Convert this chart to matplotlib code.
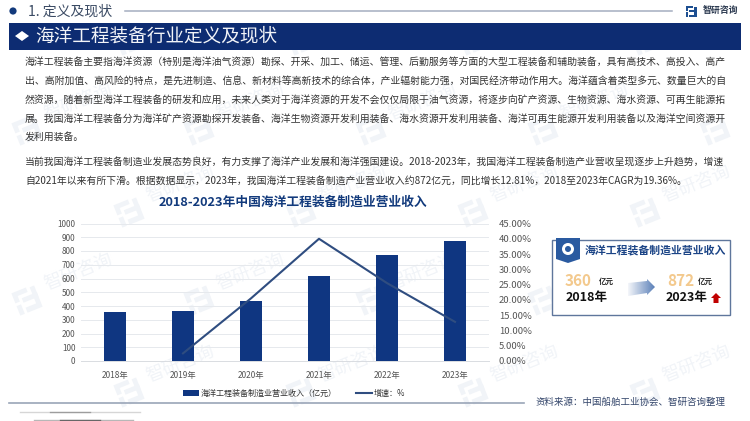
import matplotlib
matplotlib.use('Agg')
import matplotlib.pyplot as plt
import numpy as np
from matplotlib.patches import Rectangle, Polygon, Circle

plt.rcParams['font.family'] = ['Noto Sans CJK SC', 'DejaVu Sans']

# chart data
years = ['2018年', '2019年', '2020年', '2021年', '2022年', '2023年']
revenue = [360, 366, 438, 618, 771, 872]
growth_years = ['2019年', '2020年', '2021年', '2022年', '2023年']
growth = [2.5, 20.5, 40.0, 25.5, 12.81]
revenue_ticks = [0, 100, 200, 300, 400, 500, 600, 700, 800, 900, 1000]
growth_ticks = [0, 5, 10, 15, 20, 25, 30, 35, 40, 45]

# body text, one entry per line
para_lines = [
    '海洋工程装备主要指海洋资源（特别是海洋油气资源）勘探、开采、加工、储运、管理、后勤服务等方面的大型工程装备和辅助装备，具有高技术、高投入、高产',
    '出、高附加值、高风险的特点，是先进制造、信息、新材料等高新技术的综合体，产业辐射能力强，对国民经济带动作用大。海洋蕴含着类型多元、数量巨大的自',
    '然资源，随着新型海洋工程装备的研发和应用，未来人类对于海洋资源的开发不会仅仅局限于油气资源，将逐步向矿产资源、生物资源、海水资源、可再生能源拓',
    '展。我国海洋工程装备分为海洋矿产资源勘探开发装备、海洋生物资源开发利用装备、海水资源开发利用装备、海洋可再生能源开发利用装备以及海洋空间资源开',
    '发利用装备。',
    '当前我国海洋工程装备制造业发展态势良好，有力支撑了海洋产业发展和海洋强国建设。2018-2023年，我国海洋工程装备制造产业营收呈现逐步上升趋势，增速',
    '自2021年以来有所下滑。根据数据显示，2023年，我国海洋工程装备制造产业营业收入约872亿元，同比增长12.81%，2018至2023年CAGR为19.36%。',
]
para_y = [62, 81, 100, 119, 137, 162, 181]

navy = '#0d2c72'
bar_color = '#0f3681'
line_color = '#2f4d80'
grey = '#555555'

fig = plt.figure(figsize=(7.5, 4.21), dpi=100, facecolor='white')

# full page layer in pixel coordinates
page = fig.add_axes([0, 0, 1, 1], zorder=0)
page.set_xlim(0, 750)
page.set_ylim(421, 0)
page.axis('off')


def small_logo(ax, x, y, s, color, angle=0.0, lw=0):
    # the three block logo, s is the half size
    t = np.deg2rad(angle)
    rot = np.array([[np.cos(t), np.sin(t)], [-np.sin(t), np.cos(t)]])
    shapes = [
        [(-1, -1), (0.3, -1), (0.3, -0.6), (-0.6, -0.6), (-0.6, -0.1), (-1, -0.1)],
        [(-1, 0.15), (-0.6, 0.15), (-0.6, 1), (-1, 1)],
        [(-0.35, -0.3), (1, -0.3), (1, 0.1), (-0.35, 0.1)],
        [(-0.35, 0.55), (0.6, 0.55), (0.6, -0.9), (1, -0.9), (1, 1), (-0.35, 1)],
    ]
    for pts in shapes:
        xy = np.array(pts) * s
        xy = xy @ rot.T + [x, y]
        ax.add_patch(Polygon(xy, closed=True, fc=color, ec='none', lw=lw, zorder=1))


# watermarks, only the whole ones get their text
wm_color = '#f1f4f8'
for row, wy in enumerate([40, 130, 212, 300, 392]):
    offset = 0 if row % 2 == 0 else 70
    for wx in range(-60, 800, 172):
        lx = wx + offset
        small_logo(page, lx + 17, wy, 12, wm_color, angle=22)
        if 40 < lx + 68 < 710 and wy - 28 > 25:
            page.text(lx + 68, wy - 28, '智研咨询', fontsize=13, color=wm_color, rotation=22,
                      ha='center', va='center', zorder=1)

# header row
page.add_patch(Circle((13, 11), 3.6, fc='#123a7c', ec='none', zorder=3))
page.text(28, 11.5, '1. 定义及现状', fontsize=10, color='#3a4a63', ha='left', va='center', zorder=3)
page.plot([125, 672], [10.5, 10.5], color='#a4adc0', lw=1.1, zorder=3)
small_logo(page, 691, 11.5, 5.5, '#1d4f91')
page.text(703, 11, '智研咨询', fontsize=6.4, fontweight='bold', color='#2c3a50', ha='left', va='center', zorder=3)

# banner
page.add_patch(Rectangle((9, 23), 732, 26.5, fc=navy, ec='none', zorder=3))
page.add_patch(Polygon([(15, 36), (22, 31), (29, 36), (22, 41)], closed=True, fc='white', ec='none', zorder=4))
page.text(35, 36, '海洋工程装备行业定义及现状', fontsize=13.4, color='#f2f4f8', ha='left', va='center', zorder=4)

# paragraphs
for text, y in zip(para_lines, para_y):
    page.text(25, y, text, fontsize=7.1, color='#333333', ha='left', va='center', zorder=3)

page.text(293, 202, '2018-2023年中国海洋工程装备制造业营业收入', fontsize=9.2, fontweight='bold',
          color='#123a7c', ha='center', va='center', zorder=3)

# footer
page.plot([9, 524], [402.7, 402.7], color='#9aa5b8', lw=1.2, zorder=3)
page.text(536, 402, '资料来源：中国船舶工业协会、智研咨询整理', fontsize=6.8, color='#33456a',
          ha='left', va='center', zorder=3)
for alpha, x0, x1, y in [(0.2, 20, 140, 411.5), (0.35, 50, 90, 411.5), (0.35, 34, 133, 420), (0.6, 60, 100, 420)]:
    page.plot([x0, x1], [y, y], color='#333333', lw=1.0, alpha=alpha, zorder=3)

# right hand panel
page.add_patch(Rectangle((552, 239.5), 178, 75.5, fc='white', ec='#5f769c', lw=1.0, zorder=3))
page.add_patch(Polygon([(556, 238), (580, 238), (580, 259), (568, 263), (556, 259)], closed=True,
                       fc='#2a5aa0', ec='none', zorder=4))
page.add_patch(Circle((568, 249), 6, fc='white', ec='none', zorder=5))
page.add_patch(Circle((568, 249), 3, fc='#2a5aa0', ec='none', zorder=6))
page.text(585, 250, '海洋工程装备制造业营业收入', fontsize=7.8, fontweight='bold', color='#1b4486',
          ha='left', va='center', zorder=5)
page.text(565, 281, '360', fontsize=11, fontweight='bold', color='#f3c98d', ha='left', va='center', zorder=5)
page.text(599, 281, '亿元', fontsize=5.4, fontweight='bold', color='#222222', ha='left', va='center', zorder=5)
page.text(566, 298, '2018年', fontsize=9, fontweight='bold', color='#111111', ha='left', va='center', zorder=5)
page.text(667, 281, '872', fontsize=11, fontweight='bold', color='#f3c98d', ha='left', va='center', zorder=5)
page.text(698, 281, '亿元', fontsize=5.4, fontweight='bold', color='#222222', ha='left', va='center', zorder=5)
page.text(666, 298, '2023年', fontsize=9, fontweight='bold', color='#111111', ha='left', va='center', zorder=5)
page.add_patch(Polygon([(711, 298), (716, 293), (721, 298), (718.5, 298), (718.5, 303), (713.5, 303), (713.5, 298)],
                       closed=True, fc='#c00000', ec='none', zorder=5))

# gradient arrow in the panel
grad = np.linspace(0, 1, 64).reshape(1, -1)
arrow_im = page.imshow(grad, extent=(628, 655, 296, 278), cmap=matplotlib.colors.LinearSegmentedColormap.from_list(
    'arr', ['#f4f6fa', '#5b80b8']), aspect='auto', zorder=5)
arrow_clip = Polygon([(628, 283), (647, 281), (647, 279), (655, 287), (647, 295), (647, 293), (628, 296)],
                     closed=True, transform=page.transData, fc='none', ec='none')
page.add_patch(arrow_clip)
arrow_im.set_clip_path(arrow_clip)
page.set_xlim(0, 750)
page.set_ylim(421, 0)
page.set_aspect('auto')

# chart axes
ax = fig.add_axes([81 / 750, 1 - 361 / 421, 408 / 750, 137.5 / 421], zorder=2)
ax.patch.set_alpha(0)
x = np.arange(len(years))
bars = ax.bar(x, revenue, width=0.32, color=bar_color, zorder=2, label='海洋工程装备制造业营业收入（亿元）')
ax.set_xlim(-0.5, 5.5)
ax.set_ylim(0, 1000)
ax.set_yticks(revenue_ticks)
ax.set_xticks(x)
ax.set_xticklabels(years)
ax.grid(axis='y', color='#e6e9ed', lw=0.7, zorder=0)
ax.tick_params(axis='both', length=0, colors=grey)
ax.tick_params(axis='x', labelsize=6, pad=7)
ax.tick_params(axis='y', labelsize=5.9, pad=4)
for side in ['top', 'right', 'left']:
    ax.spines[side].set_visible(False)
ax.spines['bottom'].set_color('#d9dce1')
ax.spines['bottom'].set_linewidth(0.7)

ax2 = ax.twinx()
ax2.patch.set_alpha(0)
line, = ax2.plot([years.index(y) for y in growth_years], growth, color=line_color, lw=1.5, zorder=3, label='增速：%')
ax2.set_ylim(0, 45)
ax2.set_yticks(growth_ticks)
ax2.set_yticklabels(['%.2f%%' % v for v in growth_ticks])
ax2.tick_params(axis='y', length=0, labelsize=6.8, colors=grey, pad=7)
for spine in ax2.spines.values():
    spine.set_visible(False)

fig.legend([bars, line], ['海洋工程装备制造业营业收入（亿元）', '增速：%'], loc='center',
           bbox_to_anchor=(294 / 750, 1 - 393.5 / 421), ncol=2, frameon=False, fontsize=5.8,
           labelcolor='#333333', handlelength=2.0, handletextpad=0.25, columnspacing=2.3, borderpad=0)

fig.savefig('out.png', dpi=100, facecolor='white')
